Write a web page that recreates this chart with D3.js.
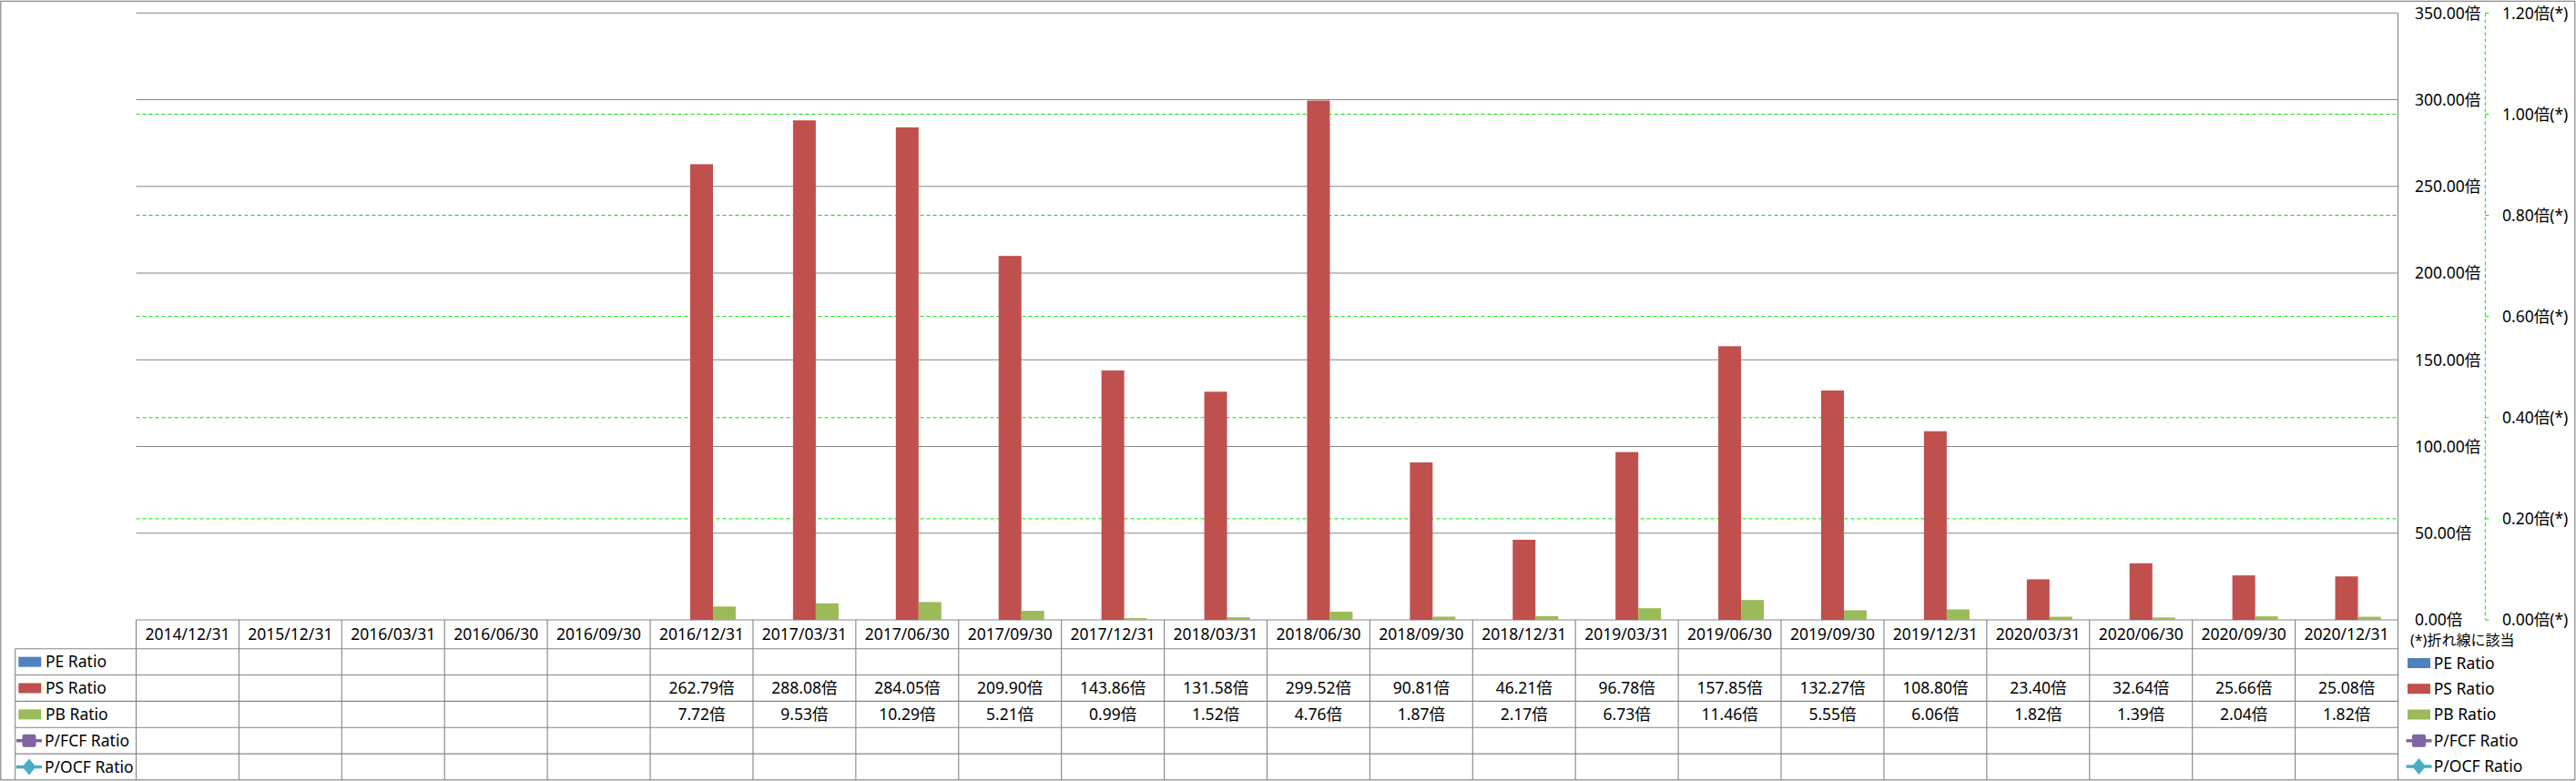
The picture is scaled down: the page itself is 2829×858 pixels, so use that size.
<!DOCTYPE html>
<html>
<head>
<meta charset="utf-8">
<script src="https://cdn.jsdelivr.net/npm/d3@7/dist/d3.min.js"></script>
<style>
html,body{margin:0;padding:0;background:#fff;}
svg{display:block;}
text{font-family:"Noto Sans","Noto Sans CJK JP",sans-serif;fill:#000;}
</style>
</head>
<body>
<svg id="chart" width="2829" height="858"></svg>
<script>
const categories = ["2014/12/31","2015/12/31","2016/03/31","2016/06/30","2016/09/30","2016/12/31","2017/03/31","2017/06/30","2017/09/30","2017/12/31","2018/03/31","2018/06/30","2018/09/30","2018/12/31","2019/03/31","2019/06/30","2019/09/30","2019/12/31","2020/03/31","2020/06/30","2020/09/30","2020/12/31"];
const peRatio = [null,null,null,null,null,null,null,null,null,null,null,null,null,null,null,null,null,null,null,null,null,null];
const psRatio = [null,null,null,null,null,262.79,288.08,284.05,209.90,143.86,131.58,299.52,90.81,46.21,96.78,157.85,132.27,108.80,23.40,32.64,25.66,25.08];
const pbRatio = [null,null,null,null,null,7.72,9.53,10.29,5.21,0.99,1.52,4.76,1.87,2.17,6.73,11.46,5.55,6.06,1.82,1.39,2.04,1.82];
const pfcfRatio = [null,null,null,null,null,null,null,null,null,null,null,null,null,null,null,null,null,null,null,null,null,null];
const pocfRatio = [null,null,null,null,null,null,null,null,null,null,null,null,null,null,null,null,null,null,null,null,null,null];
const barSeries = ["PE Ratio","PS Ratio","PB Ratio"];
const lineSeries = ["P/FCF Ratio","P/OCF Ratio"];
const primaryTicks = [0,50,100,150,200,250,300,350];
const secondaryTicks = [0,0.2,0.4,0.6,0.8,1.0,1.2];
const unit = "倍";
const noteLabel = "(*)折れ線に該当";

const colors = {"PE Ratio":"#4F81BD","PS Ratio":"#C0504D","PB Ratio":"#9BBB59","P/FCF Ratio":"#8064A2","P/OCF Ratio":"#4BACC6"};
const seriesData = {"PE Ratio":peRatio,"PS Ratio":psRatio,"PB Ratio":pbRatio,"P/FCF Ratio":pfcfRatio,"P/OCF Ratio":pocfRatio};
const allSeries = barSeries.concat(lineSeries);

const svg = d3.select("#chart");
const W = 2829, H = 858;
const plotL = 149.5, plotR = 2633.5, plotT = 14.3, plotB = 681;
const grid = "#868686";
const fs = "17.5px";

// outer frame
svg.append("rect").attr("x",0.8).attr("y",1.3).attr("width",2827).attr("height",855.5)
  .attr("fill","#fff").attr("stroke",grid).attr("stroke-width",1.2);

const x = d3.scaleBand().domain(categories).range([plotL, plotR]).padding(0);
const x1 = d3.scaleBand().domain(barSeries).range([0, x.bandwidth()]).paddingInner(0).paddingOuter(0.758);
const y = d3.scaleLinear().domain([0,350]).range([plotB, plotT]);
const y2 = d3.scaleLinear().domain([0,1.2]).range([plotB, plotT]);

// primary gridlines
svg.append("g").selectAll("line").data(primaryTicks).join("line")
  .attr("x1",plotL).attr("x2",plotR).attr("y1",d=>y(d)).attr("y2",d=>y(d))
  .attr("stroke",grid).attr("stroke-width",1.1);
// secondary gridlines (green dashed)
svg.append("g").selectAll("line").data(secondaryTicks.filter(d=>d>0 && d<1.2)).join("line")
  .attr("x1",plotL).attr("x2",plotR).attr("y1",d=>y2(d)).attr("y2",d=>y2(d))
  .attr("stroke","#00E000").attr("stroke-width",1).attr("stroke-dasharray","4,3");

// bars
const bars = svg.append("g");
barSeries.forEach(s=>{
  bars.append("g").selectAll("rect").data(categories.map((c,i)=>({c,v:seriesData[s][i]})).filter(d=>d.v!=null)).join("rect")
    .attr("x",d=>x(d.c)+x1(s)).attr("width",x1.bandwidth())
    .attr("y",d=>y(d.v)).attr("height",d=>plotB-y(d.v))
    .attr("fill",colors[s]);
});
// lines (secondary axis)
lineSeries.forEach(s=>{
  const pts = categories.map((c,i)=>({c,v:seriesData[s][i]})).filter(d=>d.v!=null);
  if(pts.length){
    svg.append("path").datum(pts)
      .attr("d",d3.line().x(d=>x(d.c)+x.bandwidth()/2).y(d=>y2(d.v)))
      .attr("fill","none").attr("stroke",colors[s]).attr("stroke-width",3);
  }
});

// right plot border
svg.append("line").attr("x1",plotR).attr("x2",plotR).attr("y1",plotT).attr("y2",857)
  .attr("stroke",grid).attr("stroke-width",1.1);

// primary axis labels
svg.append("g").selectAll("text").data(primaryTicks).join("text")
  .attr("x",2652).attr("y",d=>y(d)).attr("dy","0.36em").style("font-size",fs)
  .text(d=>d3.format(".2f")(d)+unit);

// secondary axis (green dashed)
const ax2x = 2729.3;
svg.append("line").attr("x1",ax2x).attr("x2",ax2x).attr("y1",plotT).attr("y2",plotB)
  .attr("stroke","#00E000").attr("stroke-width",1).attr("stroke-dasharray","4,3");
svg.append("g").selectAll("line").data(secondaryTicks).join("line")
  .attr("x1",ax2x).attr("x2",ax2x+4).attr("y1",d=>y2(d)).attr("y2",d=>y2(d))
  .attr("stroke","#00E000").attr("stroke-width",1);
svg.append("g").selectAll("text").data(secondaryTicks).join("text")
  .attr("x",2748).attr("y",d=>y2(d)).attr("dy","0.36em").style("font-size",fs)
  .text(d=>d3.format(".2f")(d)+unit+"(*)");

// data table
const tblL = 16.7;
const headB = 712.7;
const rowH = (857 - headB)/5;
const rows = allSeries;
const rowY = i => headB + i*rowH;

// horizontal lines
svg.append("g").selectAll("line").data(d3.range(5)).join("line")
  .attr("x1",tblL).attr("x2",plotR).attr("y1",i=>rowY(i)).attr("y2",i=>rowY(i))
  .attr("stroke",grid).attr("stroke-width",1.1);
// vertical lines
const vx = categories.map(c=>x(c)).concat([plotR]);
svg.append("g").selectAll("line").data(vx).join("line")
  .attr("x1",d=>d).attr("x2",d=>d).attr("y1",plotB).attr("y2",857)
  .attr("stroke",grid).attr("stroke-width",1.1);
svg.append("line").attr("x1",tblL).attr("x2",tblL).attr("y1",headB).attr("y2",857)
  .attr("stroke",grid).attr("stroke-width",1.1);

// header labels
svg.append("g").selectAll("text").data(categories).join("text")
  .attr("x",d=>x(d)+x.bandwidth()/2).attr("y",(plotB+headB)/2).attr("dy","0.36em")
  .attr("text-anchor","middle").style("font-size",fs).text(d=>d);

// values
rows.forEach((s,ri)=>{
  svg.append("g").selectAll("text").data(categories.map((c,i)=>({c,v:seriesData[s][i]})).filter(d=>d.v!=null)).join("text")
    .attr("x",d=>x(d.c)+x.bandwidth()/2).attr("y",rowY(ri)+rowH/2).attr("dy","0.36em")
    .attr("text-anchor","middle").style("font-size",fs)
    .text(d=>d3.format(".2f")(d.v)+unit);
});

// legend key drawing
function drawKey(g, s, cx, cy){
  if(barSeries.includes(s)){
    g.append("rect").attr("x",cx-12.5).attr("y",cy-5.5).attr("width",25).attr("height",11).attr("fill",colors[s]);
  } else {
    g.append("line").attr("x1",cx-14).attr("x2",cx+14).attr("y1",cy).attr("y2",cy)
      .attr("stroke",colors[s]).attr("stroke-width",3.5);
    if(s==="P/FCF Ratio"){
      g.append("rect").attr("x",cx-7.5).attr("y",cy-7).attr("width",15).attr("height",14).attr("rx",2).attr("fill",colors[s]);
    } else {
      g.append("path").attr("d",`M${cx},${cy-9}L${cx+7.5},${cy}L${cx},${cy+9}L${cx-7.5},${cy}Z`).attr("fill",colors[s]);
    }
  }
}
// table legend
const tl = svg.append("g");
rows.forEach((s,ri)=>{
  const cy = rowY(ri)+rowH/2;
  const kx = barSeries.includes(s) ? 32.8 : 32;
  drawKey(tl, s, kx, cy);
  tl.append("text").attr("x",barSeries.includes(s)?50:49).attr("y",cy).attr("dy","0.36em")
    .style("font-size",fs).text(s);
});

// right legend
const rl = svg.append("g");
rl.append("text").attr("x",2647).attr("y",703.7).attr("dy","0.36em").style("font-size","16px").text(noteLabel);
const legY = [728.5,756.7,785,813.8,842];
rows.forEach((s,ri)=>{
  drawKey(rl, s, 2656.5, legY[ri]);
  rl.append("text").attr("x",2672.7).attr("y",legY[ri]).attr("dy","0.36em").style("font-size",fs).text(s);
});
</script>
</body>
</html>
